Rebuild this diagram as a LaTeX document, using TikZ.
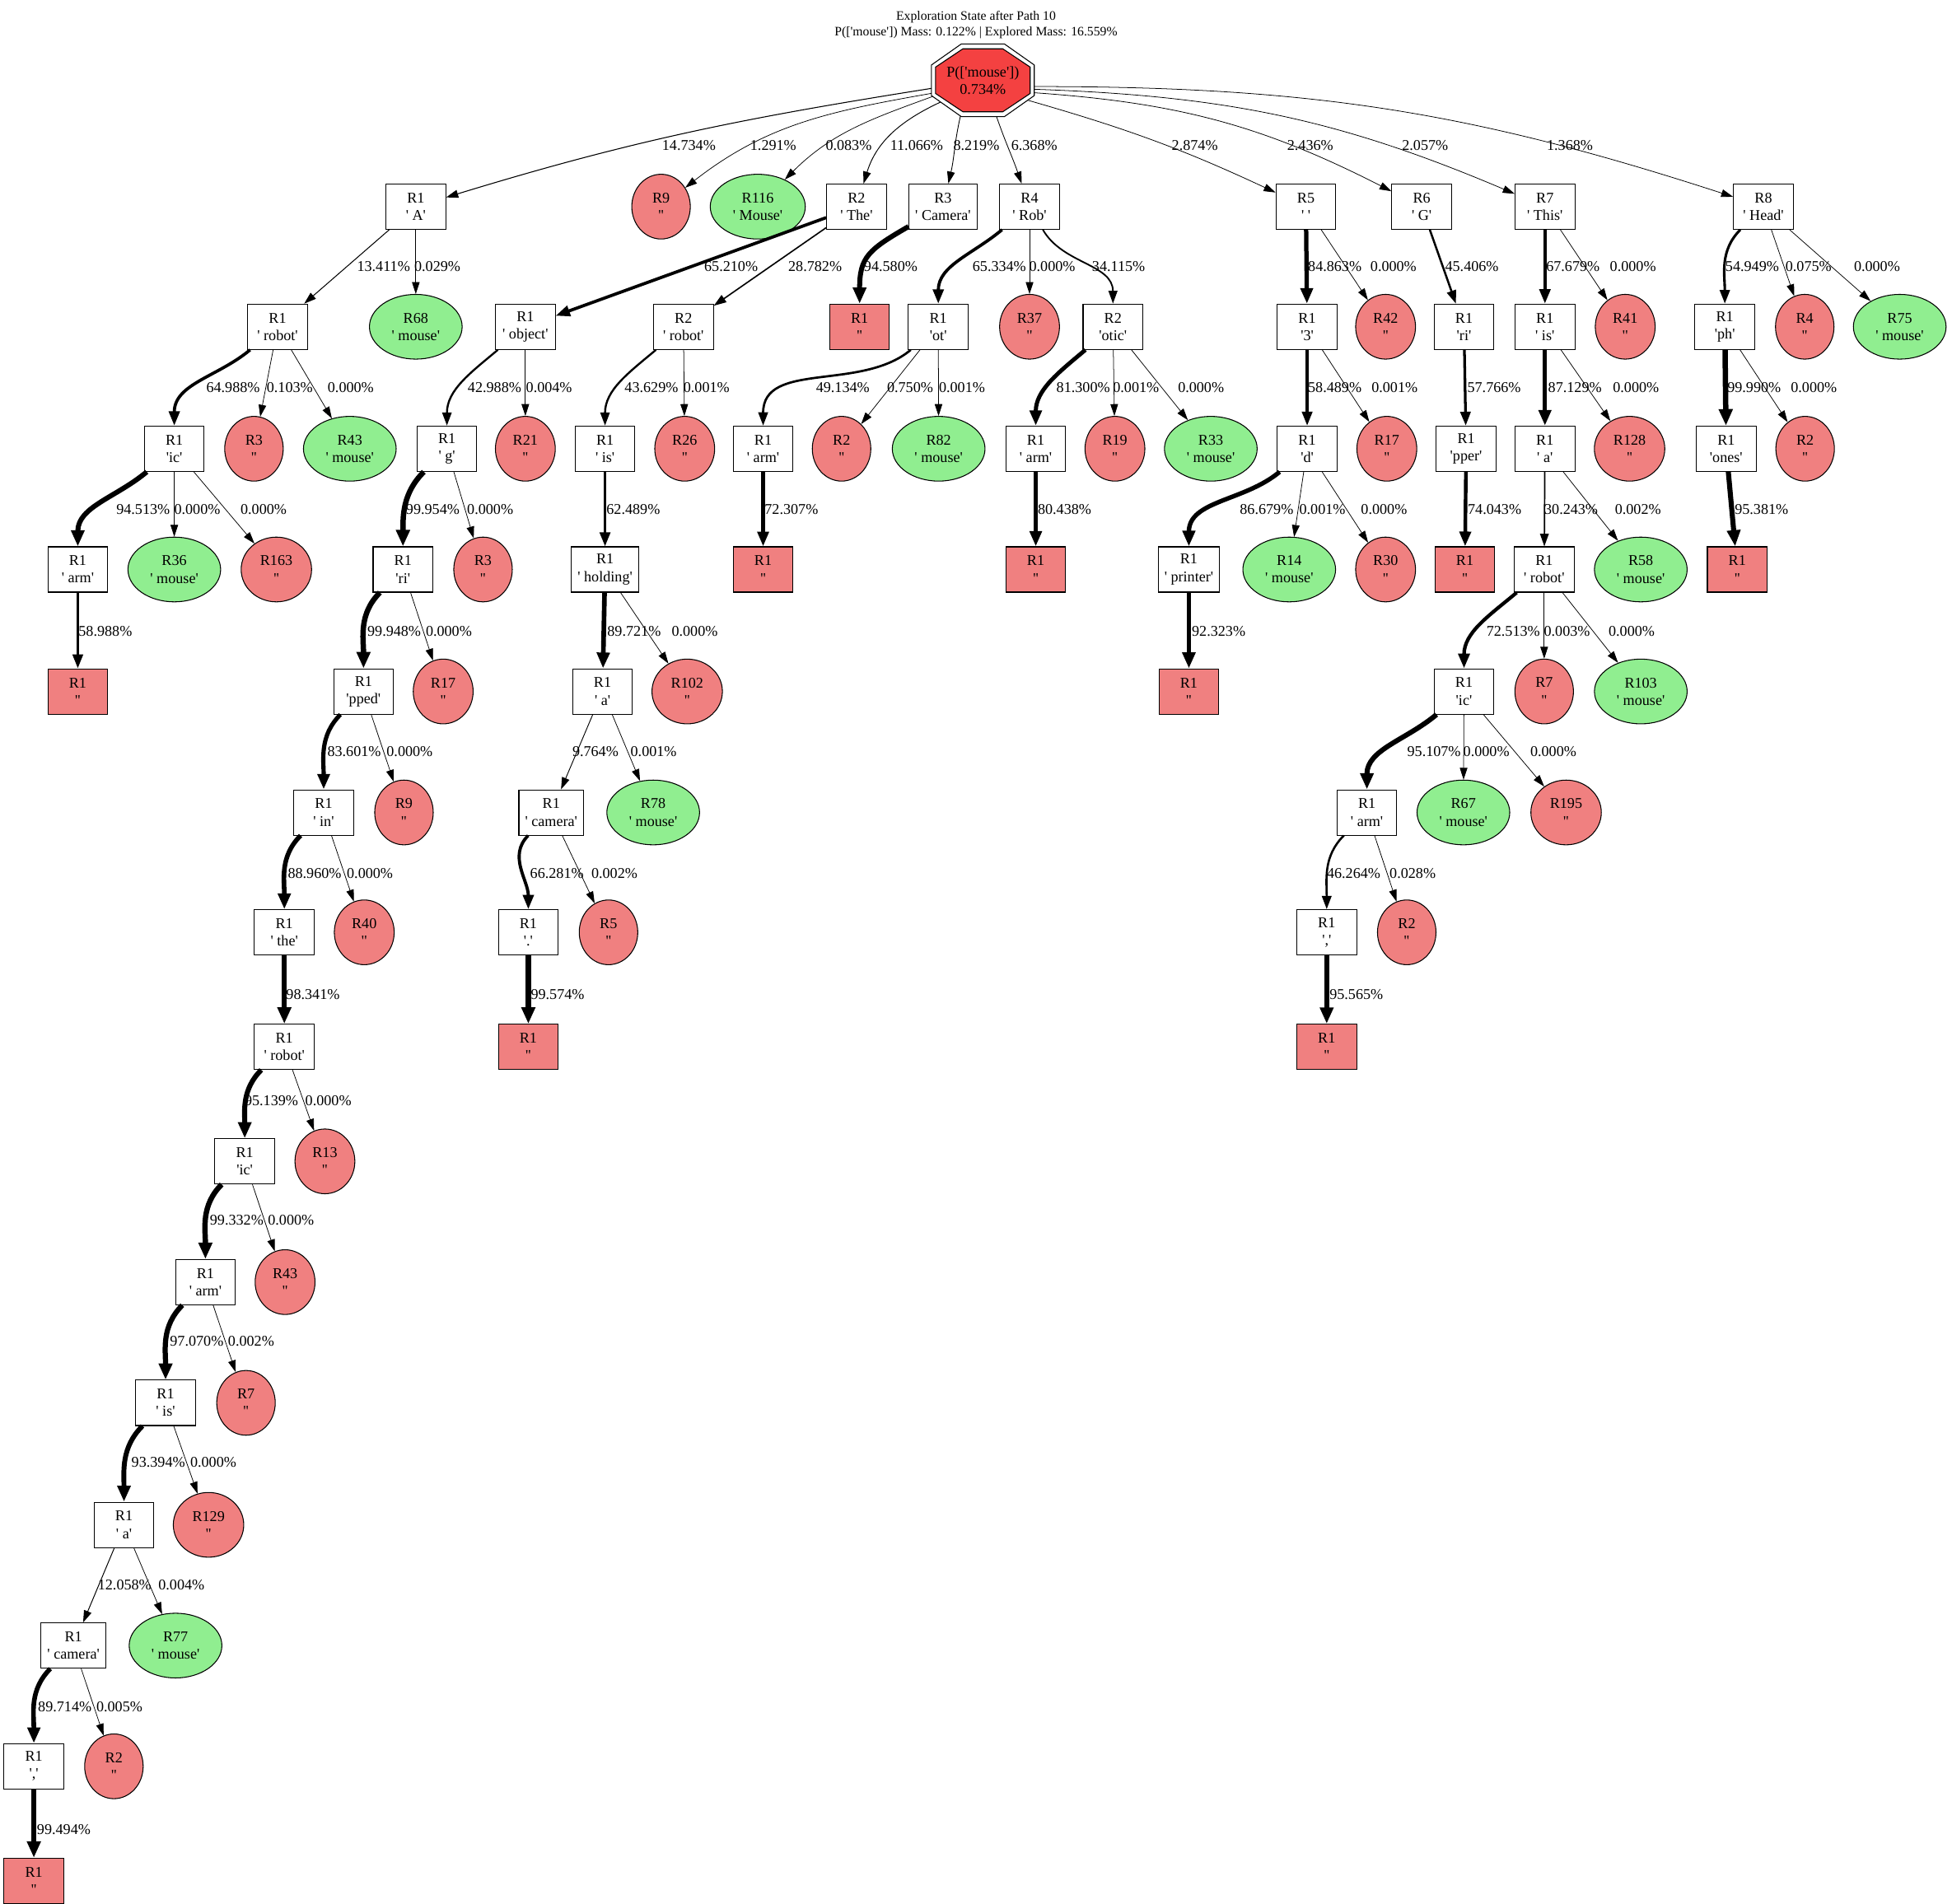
\documentclass[tikz,border=0pt]{standalone}
\usepackage{fontspec}
\setmainfont{Liberation Serif}[Ligatures=TeXOff]
\usetikzlibrary{arrows.meta,shapes.geometric,backgrounds}
\definecolor{lightcoral}{HTML}{F08080}
\definecolor{lightgreen}{HTML}{90EE90}
\definecolor{rootred}{HTML}{F44141}

\begin{document}
\begin{tikzpicture}[x=1pt, y=1pt,
		tok/.style={rectangle, draw, fill=white, line width=0.7pt, minimum width=48pt, minimum height=36.4pt, inner xsep=5pt, inner ysep=1pt, align=center, font=\fontsize{12}{14}\selectfont},
		stop/.style={tok, fill=lightcoral},
		dead/.style={ellipse, draw, fill=lightcoral, line width=0.7pt, minimum width=47pt, minimum height=52pt, inner xsep=7pt, inner ysep=1pt, align=center, font=\fontsize{12}{14}\selectfont},
		hit/.style={dead, fill=lightgreen},
		rootbox/.style={rectangle, minimum width=84pt, minimum height=60pt, inner sep=0pt, align=center, font=\fontsize{12}{14}\selectfont},
		octo/.style={line width=0.7pt, shift={(root.center)}},
		pct/.style={anchor=west, inner sep=0pt, font=\fontsize{12}{14}\selectfont},
		ttl/.style={align=center, inner sep=0pt, font=\fontsize{10.4}{12.4}\selectfont},
		edg/.style={line width={(0.5+3.8*#1/100*sqrt(#1/100))*1pt}, -{Triangle[length=9pt 1, width=5.5pt 1.2]}},
		st/.style={},
		lc/.style={out=-140, in=90},
		lk/.style={out=-150, in=90, looseness=1.3},
		ls/.style={out=-135, in=90},
		rc/.style={out=-60, in=90}
		]
		
		\path[use as bounding box] (0,0) rectangle (1568,-1529);
		
		\node[ttl] (title) at (784,-19.8) {Exploration State after Path 10\\P(['mouse']) Mass: 0.122\% | Explored Mass: 16.559\%};
		
		\node[rootbox] (root) at (789.5,-64.5) {P(['mouse'])\\0.734\%};
		
		\begin{scope}[on background layer]
			\fill[white] (0,0) rectangle (1568,-1529);
			\draw[octo, fill=white] (-41.3,12.3) -- (-17.3,29.2) -- (17.3,29.2) -- (41.3,12.3) -- (41.3,-12.3) -- (17.3,-29.2) -- (-17.3,-29.2) -- (-41.3,-12.3) -- cycle;
			\draw[octo, fill=rootred] (-38,10.6) -- (-16,25.3) -- (16,25.3) -- (38,10.6) -- (38,-10.6) -- (16,-25.3) -- (-16,-25.3) -- (-38,-10.6) -- cycle;
		\end{scope}
		
		\node[tok] (A) at (334,-166) {R1\\' A'};
		\node[dead] (x9) at (531,-166) {R9\\''};
		\node[hit] (m116) at (608.7,-166) {R116\\' Mouse'};
		\node[tok] (The) at (688,-166) {R2\\' The'};
		\node[tok] (Camera) at (757.5,-166) {R3\\' Camera'};
		\node[tok] (Rob) at (827,-166) {R4\\' Rob'};
		\node[tok] (Sp) at (1049,-166) {R5\\' '};
		\node[tok] (G) at (1142,-166) {R6\\' G'};
		\node[tok] (This) at (1241,-166) {R7\\' This'};
		\node[tok] (Head) at (1416.5,-166) {R8\\' Head'};
		
		\node[tok] (Arobot) at (223,-262.5) {R1\\' robot'};
		\node[hit] (Am68) at (334,-262.5) {R68\\' mouse'};
		\node[tok] (Tobject) at (422,-262.5) {R1\\' object'};
		\node[tok] (Trobot) at (549,-262.5) {R2\\' robot'};
		\node[stop] (Cend) at (690.5,-262.5) {R1\\''};
		\node[tok] (Rot) at (753.7,-262.5) {R1\\'ot'};
		\node[dead] (Rx37) at (827,-262.5) {R37\\''};
		\node[tok] (Rotic) at (894,-262.5) {R2\\'otic'};
		\node[tok] (S3) at (1050,-262.5) {R1\\'3'};
		\node[dead] (Sx42) at (1113,-262.5) {R42\\''};
		\node[tok] (Gri) at (1176,-262.5) {R1\\'ri'};
		\node[tok] (Yis) at (1241,-262.5) {R1\\' is'};
		\node[dead] (Yx41) at (1305.5,-262.5) {R41\\''};
		\node[tok] (Hph) at (1385.5,-262.5) {R1\\'ph'};
		\node[dead] (Hx4) at (1449.7,-262.5) {R4\\''};
		\node[hit] (Hm75) at (1526,-262.5) {R75\\' mouse'};
		
		\node[tok] (Aic) at (140,-360.5) {R1\\'ic'};
		\node[dead] (Ax3) at (204,-360.5) {R3\\''};
		\node[hit] (Am43) at (281,-360.5) {R43\\' mouse'};
		\node[tok] (Tg) at (359,-360.5) {R1\\' g'};
		\node[dead] (Tx21) at (422,-360.5) {R21\\''};
		\node[tok] (Uis) at (486,-360.5) {R1\\' is'};
		\node[dead] (Ux26) at (550,-360.5) {R26\\''};
		\node[tok] (Rarm) at (613,-360.5) {R1\\' arm'};
		\node[dead] (Rx2) at (676,-360.5) {R2\\''};
		\node[hit] (Rm82) at (754,-360.5) {R82\\' mouse'};
		\node[tok] (Oarm) at (832,-360.5) {R1\\' arm'};
		\node[dead] (Ox19) at (895.6,-360.5) {R19\\''};
		\node[hit] (Om33) at (972.6,-360.5) {R33\\' mouse'};
		\node[tok] (Sd) at (1050,-360.5) {R1\\'d'};
		\node[dead] (Sx17) at (1114,-360.5) {R17\\''};
		\node[tok] (Gpper) at (1177.7,-360.5) {R1\\'pper'};
		\node[tok] (Ya) at (1241,-360.5) {R1\\' a'};
		\node[dead] (Yx128) at (1309,-360.5) {R128\\''};
		\node[tok] (Hones) at (1386.6,-360.5) {R1\\'ones'};
		\node[dead] (Hx2) at (1450,-360.5) {R2\\''};
		
		\node[tok] (Aarm) at (62.5,-457.5) {R1\\' arm'};
		\node[hit] (Am36) at (140,-457.5) {R36\\' mouse'};
		\node[dead] (Ax163) at (222,-457.5) {R163\\''};
		\node[tok] (Tri) at (323.7,-457.5) {R1\\'ri'};
		\node[dead] (Tx3) at (388,-457.5) {R3\\''};
		\node[tok] (Uhold) at (486,-457.5) {R1\\' holding'};
		\node[stop] (Rend) at (613,-457.5) {R1\\''};
		\node[stop] (Oend) at (832,-457.5) {R1\\''};
		\node[tok] (Sprinter) at (955,-457.5) {R1\\' printer'};
		\node[hit] (Sm14) at (1035.6,-457.5) {R14\\' mouse'};
		\node[dead] (Sx30) at (1113,-457.5) {R30\\''};
		\node[stop] (Gend) at (1176.7,-457.5) {R1\\''};
		\node[tok] (Yrobot) at (1240.4,-457.5) {R1\\' robot'};
		\node[hit] (Ym58) at (1318,-457.5) {R58\\' mouse'};
		\node[stop] (Hend) at (1395.5,-457.5) {R1\\''};
		
		\node[stop] (Aend) at (62.5,-555.5) {R1\\''};
		\node[tok] (Tpped) at (292,-555.5) {R1\\'pped'};
		\node[dead] (Tx17) at (356,-555.5) {R17\\''};
		\node[tok] (Ua) at (484,-555.5) {R1\\' a'};
		\node[dead] (Ux102) at (552,-555.5) {R102\\''};
		\node[stop] (Send) at (955,-555.5) {R1\\''};
		\node[tok] (Yic) at (1176,-555.5) {R1\\'ic'};
		\node[dead] (Yx7) at (1240.4,-555.5) {R7\\''};
		\node[hit] (Ym103) at (1318,-555.5) {R103\\' mouse'};
		
		\node[tok] (Tin) at (260,-652.7) {R1\\' in'};
		\node[dead] (Tx9) at (324.5,-652.7) {R9\\''};
		\node[tok] (Ucam) at (442.8,-652.7) {R1\\' camera'};
		\node[hit] (Um78) at (524.7,-652.7) {R78\\' mouse'};
		\node[tok] (Yarm) at (1098,-652.7) {R1\\' arm'};
		\node[hit] (Ym67) at (1175.5,-652.7) {R67\\' mouse'};
		\node[dead] (Yx195) at (1258,-652.7) {R195\\''};
		
		\node[tok] (Tthe) at (228.4,-749) {R1\\' the'};
		\node[dead] (Tx40) at (292.6,-749) {R40\\''};
		\node[tok] (Udot) at (424.4,-749) {R1\\'.'};
		\node[dead] (Ux5) at (488.8,-749) {R5\\''};
		\node[tok] (Ycomma) at (1065.7,-749) {R1\\','};
		\node[dead] (Yx2) at (1130,-749) {R2\\''};
		
		\node[tok] (Trb) at (228.4,-841) {R1\\' robot'};
		\node[stop] (Uend) at (424.4,-841) {R1\\''};
		\node[stop] (Yend) at (1065.7,-841) {R1\\''};
		
		\node[tok] (Tic) at (196.6,-933) {R1\\'ic'};
		\node[dead] (Tx13) at (261,-933) {R13\\''};
		\node[tok] (Tarm) at (165,-1030) {R1\\' arm'};
		\node[dead] (Tx43) at (229,-1030) {R43\\''};
		\node[tok] (Tis) at (133,-1127) {R1\\' is'};
		\node[dead] (Tx7) at (197.6,-1127) {R7\\''};
		\node[tok] (Ta) at (99.6,-1225) {R1\\' a'};
		\node[dead] (Tx129) at (167.5,-1225) {R129\\''};
		\node[tok] (Tcam) at (59,-1322) {R1\\' camera'};
		\node[hit] (Tm77) at (141,-1322) {R77\\' mouse'};
		\node[tok] (Tcomma) at (27.2,-1419) {R1\\','};
		\node[dead] (Tx2) at (91.5,-1419) {R2\\''};
		\node[stop] (Tend) at (27.2,-1511) {R1\\''};
		
		\draw[edg=14.734] ([shift={(-41.3,-6.5)}]root.center) to[out=189, in=17] (A) node[pct] at (531.5,-117) {14.734\%};
		\draw[edg=1.291] ([shift={(-41.3,-10.5)}]root.center) to[out=190, in=38] (x9) node[pct] at (602.4,-117) {1.291\%};
		\draw[edg=0.083] ([shift={(-40.3,-13)}]root.center) to[out=200, in=45] (m116) node[pct] at (663,-117) {0.083\%};
		\draw[edg=11.066] ([shift={(-34,-17.5)}]root.center) to[out=205, in=73] (The) node[pct] at (714.7,-117) {11.066\%};
		\draw[edg=8.219] ([shift={(-18,-28.7)}]root.center) to[out=257, in=77] (Camera) node[pct] at (765.5,-117) {8.219\%};
		\draw[edg=6.368] ([shift={(11,-29.2)}]root.center) to[out=-71, in=109] (Rob) node[pct] at (812,-117) {6.368\%};
		\draw[edg=2.874] ([shift={(36,-16)}]root.center) to[out=-16, in=155] (Sp) node[pct] at (941,-117) {2.874\%};
		\draw[edg=2.436] ([shift={(41.3,-10)}]root.center) to[out=-4, in=153] (G) node[pct] at (1033.7,-117) {2.436\%};
		\draw[edg=2.057] ([shift={(41.3,-7.2)}]root.center) to[out=-2, in=157] (This) node[pct] at (1126,-117) {2.057\%};
		\draw[edg=1.368] ([shift={(41.3,-5)}]root.center) to[out=0, in=162] (Head) node[pct] at (1242.3,-117) {1.368\%};
		
		\foreach \p/\c/\v/\lx/\ly/\s in {
			A/Arobot/13.411/286.5/-214/st, A/Am68/0.029/332.6/-214/st, The/Tobject/65.210/564.5/-214/st, The/Trobot/28.782/632.7/-214/st,
			Camera/Cend/94.580/692/-214/lk, Rob/Rot/65.334/780/-214/lc, Rob/Rx37/0.000/826.5/-214/st, Rob/Rotic/34.115/876.6/-214/rc,
			Sp/S3/84.863/1049/-214/st, Sp/Sx42/0.000/1100.6/-214/st, G/Gri/45.406/1160/-214/st, This/Yis/67.679/1240.7/-214/st,
			This/Yx41/0.000/1293/-214/st, Head/Hph/54.949/1385/-214/ls, Head/Hx4/0.075/1434/-214/st, Head/Hm75/0.000/1489/-214/st,
			Arobot/Aic/64.988/164.5/-311.5/lc, Arobot/Ax3/0.103/214/-311.5/st, Arobot/Am43/0.000/263/-311.5/st,
			Tobject/Tg/42.988/375/-311.5/lc, Tobject/Tx21/0.004/422.3/-311.5/st, Trobot/Uis/43.629/501/-311.5/lc, Trobot/Ux26/0.001/548.8/-311.5/st,
			Rot/Rarm/49.134/654.6/-311.5/lc, Rot/Rx2/0.750/712.3/-311.5/st, Rot/Rm82/0.001/754/-311.5/st,
			Rotic/Oarm/81.300/847/-311.5/lc, Rotic/Ox19/0.001/893.8/-311.5/st, Rotic/Om33/0.000/946/-311.5/st,
			S3/Sd/58.489/1049.6/-311.5/st, S3/Sx17/0.001/1101.5/-311.5/st, Gri/Gpper/57.766/1177.6/-311.5/st,
			Yis/Ya/87.129/1241.8/-311.5/st, Yis/Yx128/0.000/1295.4/-311.5/st, Hph/Hones/99.990/1385.4/-311.5/st, Hph/Hx2/0.000/1438.3/-311.5/st,
			Aic/Aarm/94.513/91.5/-409/lc, Aic/Am36/0.000/139.7/-409/st, Aic/Ax163/0.000/193/-409/st,
			Tg/Tri/99.954/324/-409/ls, Tg/Tx3/0.000/375/-409/st, Uis/Uhold/62.489/486/-409/st,
			Rarm/Rend/72.307/612.8/-409/st, Oarm/Oend/80.438/832/-409/st,
			Sd/Sprinter/86.679/994.2/-409/lc, Sd/Sm14/0.001/1043.5/-409/st, Sd/Sx30/0.000/1093/-409/st,
			Gpper/Gend/74.043/1177.6/-409/st, Ya/Yrobot/30.243/1240/-409/st, Ya/Ym58/0.002/1297/-409/st, Hones/Hend/95.381/1391.5/-409/st,
			Aarm/Aend/58.988/62/-507/st, Tri/Tpped/99.948/293/-507/ls, Tri/Tx17/0.000/341.8/-507/st,
			Uhold/Ua/89.721/486/-507/st, Uhold/Ux102/0.000/539.3/-507/st, Sprinter/Send/92.323/955.5/-507/st,
			Yrobot/Yic/72.513/1192.6/-507/lc, Yrobot/Yx7/0.003/1240/-507/st, Yrobot/Ym103/0.000/1291.9/-507/st,
			Tpped/Tin/83.601/261.3/-604/ls, Tpped/Tx9/0.000/310.3/-604/st, Ua/Ucam/9.764/459.5/-604/st, Ua/Um78/0.001/506.3/-604/st,
			Yic/Yarm/95.107/1128.4/-604/lc, Yic/Ym67/0.000/1175.2/-604/st, Yic/Yx195/0.000/1229/-604/st,
			Tin/Tthe/88.960/229.4/-702/ls, Tin/Tx40/0.000/278.4/-702/st, Ucam/Udot/66.281/424.6/-702/ls, Ucam/Ux5/0.002/474.8/-702/st,
			Yarm/Ycomma/46.264/1065/-702/ls, Yarm/Yx2/0.028/1116/-702/st,
			Tthe/Trb/98.341/227.8/-799/st, Udot/Uend/99.574/424.3/-799/st, Ycomma/Yend/95.565/1066/-799/st,
			Trb/Tic/95.139/194.5/-884/ls, Trb/Tx13/0.000/245/-884/st,
			Tic/Tarm/99.332/166.5/-980/ls, Tic/Tx43/0.000/215/-980/st,
			Tarm/Tis/97.070/134.5/-1077.5/ls, Tarm/Tx7/0.002/183/-1077.5/st,
			Tis/Ta/93.394/103.7/-1175/ls, Tis/Tx129/0.000/152.6/-1175/st,
			Ta/Tcam/12.058/78.3/-1273/st, Ta/Tm77/0.004/127/-1273/st,
			Tcam/Tcomma/89.714/28.7/-1371/ls, Tcam/Tx2/0.005/77.2/-1371/st,
			Tcomma/Tend/99.494/27.6/-1469.5/st} {
			\draw[edg=\v, \s] (\p) to (\c) node[pct] at (\lx,\ly) {\v\%};
		}
		
	\end{tikzpicture}
\end{document}
